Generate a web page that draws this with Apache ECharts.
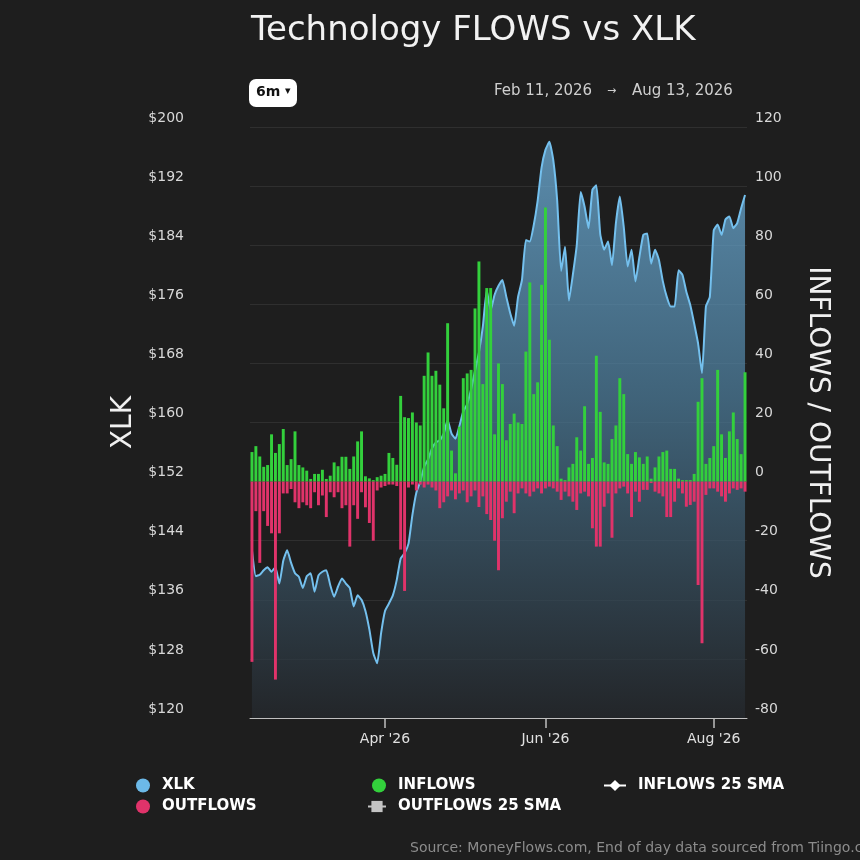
<!DOCTYPE html>
<html>
<head>
<meta charset="utf-8">
<title>Technology FLOWS vs XLK</title>
<script src="https://cdn.jsdelivr.net/npm/echarts@6/dist/echarts.min.js"></script>
<style>
html,body{margin:0;padding:0;background:#1e1e1e;}
#chart{width:860px;height:860px;}
</style>
</head>
<body>
<div id="chart"></div>
<script>
// trading days of 2026, listed per month
var febDays = [11,12,13,17,18,19,20,23,24,25,26,27];
var marDays = [2,3,4,5,6,9,10,11,12,13,16,17,18,19,20,23,24,25,26,27,30,31];
var aprDays = [1,2,6,7,8,9,10,13,14,15,16,17,20,21,22,23,24,27,28,29,30];
var mayDays = [1,4,5,6,7,8,11,12,13,14,15,18,19,20,21,22,26,27,28,29];
var junDays = [1,2,3,4,5,8,9,10,11,12,15,16,17,18,22,23,24,25,26,29,30];
var julDays = [1,2,6,7,8,9,10,13,14,15,16,17,20,21,22,23,24,27,28,29,30,31];
var augDays = [3,4,5,6,7,10,11,12,13];

// x axis tick labels
var tickMonths = ['2026-04','2026-06','2026-08'];
var tickLabels = ["Apr '26","Jun '26","Aug '26"];

// XLK close ($)
var xlk = [
	142.7,139.2,139.4,140,140.4,139.8,140.4,138.2,141.3,142.7,141,139.6,139.1,137.6,139.2,139.6,137.1,139.3,139.8,140,
	138,136.4,137.8,138.9,138.2,137.6,135.1,136.6,136,134.5,132,128.8,127.4,131.5,134.5,135.5,136.6,138.7,141.6,142.3,
	143.6,147.5,150.5,152,154,155,156.5,157.3,157.6,158.5,160.3,158.5,157.8,159.5,161.5,162.5,164.5,167,169.5,173,
	177.9,175.2,177.3,178.5,179.3,177,174.8,173.1,177,179.3,184.7,184.5,186.7,190,194.5,196.9,198,195.5,190,180.5,
	183.8,176.5,180,184,191.2,189.2,186.3,191.5,192.1,185.5,183.4,184.5,181.3,187,190.6,186.5,181.1,183.4,179.1,182.4,
	185.4,185.6,181.5,183.4,182,179.1,177,175.7,175.7,180.6,180,177.7,175.9,173.4,170.7,166.7,175.7,177,186,186.8,
	185.4,187.5,187.9,186.3,187,189,190.8
];

// daily inflows
var inflows = [
	10,12,8.5,5,5.6,16,9.7,12.7,17.8,5.6,7.6,17,5.6,4.8,3.7,0.9,2.6,2.6,4,0.9,
	2,6.5,5.2,8.4,8.4,4.3,8.5,13.6,17,1.8,1.1,0.5,1.5,2,2.6,9.7,8,5.7,29,21.8,
	21.5,23.4,20,19,35.8,43.7,35.8,37.5,32.8,24.8,53.6,10.5,2.8,18.6,35,36.6,37.8,58.6,74.5,33,
	65.5,65.5,16,40,33,14,19.5,23,20,19.5,44,67.4,29.6,33.6,66.6,92.8,48,19,12,1,
	0.5,4.8,6,15,10.5,25.5,6,8,42.6,23.6,6.5,6,14.4,19,35,29.6,9.3,6,10,8.2,
	6,8.5,1,4.8,8.5,10,10.5,4.3,4.3,1,0.5,0.5,0.5,2.6,27,35,6,8,12,37.8,
	16,8,17,23.4,14.4,9.3,37
];

// daily outflows
var outflows = [
	-61,-10,-27.5,-10,-15,-17.5,-67,-17.5,-4,-4,-2.5,-7,-9,-7,-8,-9,-3.6,-8,-4.7,-12,
	-3.6,-5.3,-3.6,-9,-8,-22,-8,-12.6,-3.6,-8.7,-14,-20,-3,-2,-1.5,-1,-1,-1.5,-23,-37,
	-2,-1,-3,-1,-2,-1,-2,-3,-9,-7,-5,-3,-6,-4,-3,-7,-5,-3,-8.6,-5,
	-11,-13,-20,-30,-12.4,-6.8,-3.4,-10.7,-4,-2.3,-4,-5,-3.4,-2.3,-4,-2.3,-1.7,-2.3,-3.4,-6.2,
	-3.4,-5,-6.8,-9.6,-4,-3.4,-5,-15.8,-22,-22,-8.5,-4,-19,-4,-2.3,-1.7,-4,-12,-3.4,-6.8,
	-2.8,-2.8,-0.5,-3.4,-4,-5,-12,-12,-6.8,-2.3,-4,-8.5,-7.9,-6.8,-35,-54.7,-4.5,-2.3,-2.3,-3.4,
	-5,-6.8,-4,-2.3,-2.8,-2.3,-3.4
];

var FONT = 'DejaVu Sans';

var dates = [];
var months = [['02',febDays],['03',marDays],['04',aprDays],['05',mayDays],['06',junDays],['07',julDays],['08',augDays]];
for (var m = 0; m < months.length; m++) {
	for (var d = 0; d < months[m][1].length; d++) {
		var dd = months[m][1][d];
		dates.push('2026-' + months[m][0] + '-' + (dd < 10 ? '0' + dd : dd));
	}
}

// first trading day of a labelled month
function isTick(idx) {
	var mk = dates[idx].slice(0, 7);
	if (tickMonths.indexOf(mk) < 0) return false;
	return idx === 0 || dates[idx - 1].slice(0, 7) !== mk;
}

var myChart = echarts.init(document.getElementById('chart'));

function legendItem(name, left, top, w, icon) {
	var lg = {
		data: [name],
		left: left,
		top: top,
		padding: 0,
		itemWidth: w,
		itemHeight: 14,
		selectedMode: false,
		textStyle: {color: '#fff', fontSize: 15, fontWeight: 'bold', fontFamily: FONT, padding: [0,0,0,7]}
	};
	if (icon) lg.icon = icon;
	return lg;
}

var option = {
	backgroundColor: '#1e1e1e',
	animation: false,
	textStyle: {fontFamily: FONT},
	title: {
		text: 'Technology FLOWS vs XLK',
		left: 246,
		top: 9,
		textStyle: {color: '#f2f2f2', fontSize: 34, fontWeight: 'normal', fontFamily: FONT}
	},
	legend: [
		legendItem('XLK', 136, 778, 14, 'circle'),
		legendItem('OUTFLOWS', 136, 799, 14, 'circle'),
		legendItem('INFLOWS', 372, 778, 14, 'circle'),
		legendItem('OUTFLOWS 25 SMA', 367, 799, 18),
		legendItem('INFLOWS 25 SMA', 603, 778, 22)
	],
	grid: {left: 250, right: 113, top: 127, bottom: 142},
	xAxis: {
		type: 'category',
		data: dates,
		axisLine: {show: true, onZero: false, lineStyle: {color: '#bfbfbf', width: 1}},
		axisTick: {
			show: true,
			alignWithLabel: true,
			length: 10,
			interval: function (idx) { return isTick(idx); },
			lineStyle: {color: '#bfbfbf', width: 1.5}
		},
		axisLabel: {
			interval: function (idx) { return isTick(idx); },
			formatter: function (value) {
				return tickLabels[tickMonths.indexOf(value.slice(0, 7))];
			},
			color: '#e0e0e0',
			fontSize: 14,
			margin: 14
		},
		splitLine: {show: false}
	},
	yAxis: [
		{
			type: 'value',
			position: 'left',
			min: 120,
			max: 200,
			interval: 8,
			name: 'XLK',
			nameLocation: 'middle',
			nameRotate: 90,
			nameGap: 98,
			nameTextStyle: {color: '#f0f0f0', fontSize: 28, fontFamily: FONT},
			axisLine: {show: false},
			axisTick: {show: false},
			axisLabel: {
				formatter: '${value}',
				color: '#d8d8d8',
				fontSize: 14,
				margin: 66,
				verticalAlign: 'bottom',
				padding: [0,0,2,0]
			},
			splitLine: {lineStyle: {color: 'rgba(255,255,255,0.08)'}}
		},
		{
			type: 'value',
			position: 'right',
			min: -80,
			max: 120,
			interval: 20,
			name: 'INFLOWS / OUTFLOWS',
			nameLocation: 'middle',
			nameRotate: -90,
			nameGap: 56,
			nameTextStyle: {color: '#f0f0f0', fontSize: 28, fontFamily: FONT},
			axisLine: {show: false},
			axisTick: {show: false},
			axisLabel: {
				color: '#d8d8d8',
				fontSize: 14,
				margin: 8,
				verticalAlign: 'bottom',
				padding: [0,0,2,0]
			},
			splitLine: {show: false}
		}
	],
	series: [
		{
			name: 'XLK',
			type: 'line',
			yAxisIndex: 0,
			data: xlk,
			symbol: 'none',
			smooth: 0.15,
			z: 1,
			itemStyle: {color: '#6cb9e8'},
			lineStyle: {color: '#74c0ee', width: 2},
			areaStyle: {
				origin: 'start',
				color: new echarts.graphic.LinearGradient(0, 0, 0, 1, [
					{offset: 0, color: 'rgba(116,186,232,1)'},
					{offset: 0.45, color: 'rgba(78,128,160,1)'},
					{offset: 1, color: 'rgba(37,41,46,1)'}
				])
			}
		},
		{
			name: 'INFLOWS',
			type: 'bar',
			yAxisIndex: 1,
			data: inflows,
			barWidth: '75%',
			barGap: '-100%',
			z: 2,
			itemStyle: {color: '#33d03c'}
		},
		{
			name: 'OUTFLOWS',
			type: 'bar',
			yAxisIndex: 1,
			data: outflows,
			barWidth: '75%',
			barGap: '-100%',
			z: 2,
			itemStyle: {color: '#e0336a'}
		},
		{
			name: 'INFLOWS 25 SMA',
			type: 'line',
			yAxisIndex: 1,
			data: [],
			symbol: 'diamond',
			symbolSize: 9,
			itemStyle: {color: '#ffffff'},
			lineStyle: {color: '#ffffff', width: 2}
		},
		{
			name: 'OUTFLOWS 25 SMA',
			type: 'line',
			yAxisIndex: 1,
			data: [],
			symbol: 'rect',
			symbolSize: 9,
			itemStyle: {color: '#c4c4c4'},
			lineStyle: {color: '#c4c4c4', width: 2}
		}
	],
	graphic: [
		{
			type: 'rect',
			left: 249,
			top: 79,
			shape: {width: 48, height: 28, r: 7},
			style: {fill: '#ffffff'}
		},
		{
			type: 'text',
			left: 256,
			top: 85,
			style: {text: '6m', fill: '#111', font: 'bold 14px "DejaVu Sans"'}
		},
		{
			type: 'text',
			left: 285,
			top: 86,
			style: {text: '▾', fill: '#111', font: '11px "DejaVu Sans"'}
		},
		{
			type: 'text',
			left: 494,
			top: 84,
			style: {text: 'Feb 11, 2026', fill: '#cfcfcf', font: '15px "DejaVu Sans"'}
		},
		{
			type: 'text',
			left: 607,
			top: 86,
			style: {text: '→', fill: '#cfcfcf', font: '11px "DejaVu Sans"'}
		},
		{
			type: 'text',
			left: 632,
			top: 84,
			style: {text: 'Aug 13, 2026', fill: '#cfcfcf', font: '15px "DejaVu Sans"'}
		},
		{
			type: 'text',
			left: 410,
			top: 841,
			style: {text: 'Source: MoneyFlows.com, End of day data sourced from Tiingo.com', fill: '#8c8c8c', font: '14px "DejaVu Sans"'}
		}
	]
};

myChart.setOption(option);
</script>
</body>
</html>
